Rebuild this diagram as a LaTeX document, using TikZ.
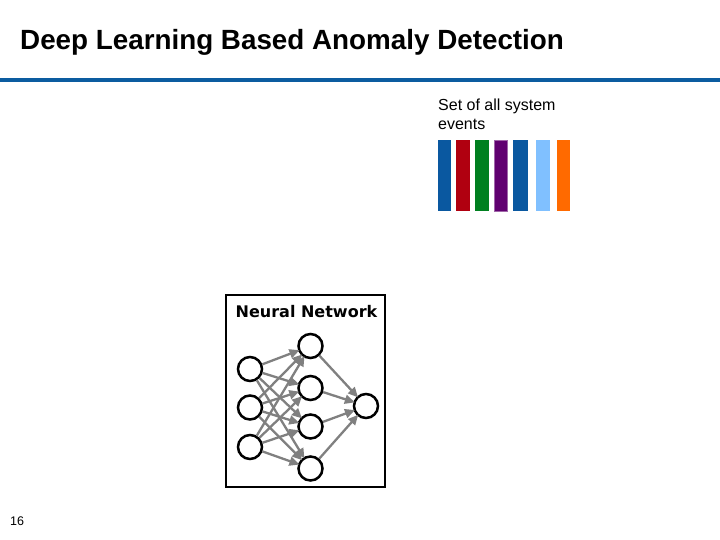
\documentclass[tikz,border=0pt]{standalone}
\usepackage{fontspec}
\setmainfont{Liberation Sans}
\newfontfamily\nnfont{DejaVu Sans}
\usetikzlibrary{arrows.meta}
\definecolor{slideblue}{RGB}{12,92,160}
\definecolor{evblue}{RGB}{10,88,160}
\definecolor{evred}{RGB}{176,0,16}
\definecolor{evgreen}{RGB}{0,128,32}
\definecolor{evpurple}{RGB}{96,0,112}
\definecolor{evlight}{RGB}{128,192,255}
\definecolor{evorange}{RGB}{255,106,0}
\tikzset{
  neuron/.style={circle,draw=black,line width=2.5pt,minimum size=24pt,inner sep=0pt},
  synapse/.style={draw=black!50,line width=2.3pt,-{Triangle[length=10pt,width=9pt]},shorten >=-1.5pt}
}
\begin{document}
\begin{tikzpicture}[x=1pt,y=-1pt]
        \useasboundingbox[fill=white] (0,0) rectangle (720,540);
        \node[anchor=base west,inner sep=0pt,font=\bfseries\fontsize{27.8}{30}\selectfont] (title) at (20,50) {Deep Learning Based Anomaly Detection};
        \fill[slideblue] (0,78) rectangle (720,82);
        \node[anchor=north west,inner sep=0pt,align=left,font=\fontsize{16}{19}\selectfont] (events) at (438,99) {Set of all system\\events};
        \fill[evblue] (437.5,140) rectangle (451,211);
        \fill[evred] (456,140) rectangle (470,211);
        \fill[evgreen] (474.5,140) rectangle (489,211);
        \filldraw[fill=evpurple,draw=evpurple!60,line width=0.8pt] (494,140) rectangle (507.5,211);
        \fill[evblue] (513,140) rectangle (527.5,211);
        \fill[evlight] (536,140) rectangle (549.5,211);
        \fill[evorange] (556.5,140) rectangle (570,211);
        \draw[line width=2.5pt] (226,295) rectangle (385,487);
        \node[font=\nnfont\bfseries\fontsize{16}{18}\selectfont,inner sep=0pt] (nnlabel) at (306.5,312) {Neural Network};
        \node[neuron] (i1) at (250,369) {};
        \node[neuron] (i2) at (250,407.5) {};
        \node[neuron] (i3) at (250,447) {};
        \node[neuron] (h1) at (310.5,346) {};
        \node[neuron] (h2) at (310.5,388) {};
        \node[neuron] (h3) at (310.5,426.5) {};
        \node[neuron] (h4) at (310.5,468.5) {};
        \node[neuron] (o1) at (366,406) {};
        \draw[synapse] (i1)--(h1);
        \draw[synapse] (i1)--(h2);
        \draw[synapse] (i1)--(h3);
        \draw[synapse] (i1)--(h4);
        \draw[synapse] (i2)--(h1);
        \draw[synapse] (i2)--(h2);
        \draw[synapse] (i2)--(h3);
        \draw[synapse] (i2)--(h4);
        \draw[synapse] (i3)--(h1);
        \draw[synapse] (i3)--(h2);
        \draw[synapse] (i3)--(h3);
        \draw[synapse] (i3)--(h4);
        \draw[synapse] (h1)--(o1);
        \draw[synapse] (h2)--(o1);
        \draw[synapse] (h3)--(o1);
        \draw[synapse] (h4)--(o1);
        \node[anchor=base west,inner sep=0pt,font=\fontsize{12.5}{14}\selectfont] (pagenum) at (10,525) {16};
    \end{tikzpicture}
\end{document}
